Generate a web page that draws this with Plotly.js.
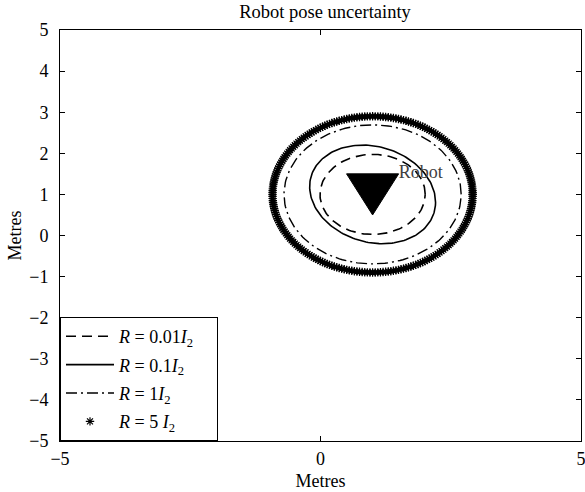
<!DOCTYPE html>
<html>
<head>
<meta charset="utf-8">
<script src="https://cdn.plot.ly/plotly-3.0.1.min.js"></script>
<style>html,body{margin:0;padding:0;background:#fff;}#chart{width:585px;height:492px;}</style>
</head>
<body>
<div id="chart"></div>
<script>
// Ellipse legend labels
const seriesNames = [
  '<i>R</i> = 0.01<i>I</i><sub>2</sub>',
  '<i>R</i> = 0.1<i>I</i><sub>2</sub>',
  '<i>R</i> = 1<i>I</i><sub>2</sub>',
  '<i>R</i> = 5 <i>I</i><sub>2</sub>'
];
// Ellipse centres (metres)
const centreX = [1, 1, 1, 1];
const centreY = [1, 1, 1, 1];
// Ellipse shape matrices (squared semi-axes, metres^2)
const shapeXX = [1.02, 1.46, 2.89, 3.69];
const shapeYY = [0.95, 1.44, 2.86, 3.61];
const shapeXY = [0.0, -0.23, 0.0, 0.0];
// Number of points used to draw each ellipse
const ellipsePoints = [180, 180, 180, 240];
// Robot triangle vertices
const robotX = [0.5, 1.5, 1.0, 0.5];
const robotY = [1.5, 1.5, 0.5, 1.5];
const robotLabel = 'Robot';
const robotLabelX = [1.5];
const robotLabelY = [1.5];
// Tick values
const xTicks = [-5, 0, 5];
const yTicks = [-5, -4, -3, -2, -1, 0, 1, 2, 3, 4, 5];

function ellipse(i) {
  const a = Math.sqrt(shapeXX[i]);
  const b = shapeXY[i] / a;
  const c = Math.sqrt(shapeYY[i] - b * b);
  const xs = [], ys = [];
  const n = ellipsePoints[i];
  for (let k = 0; k <= n; k++) {
    const t = 2 * Math.PI * k / n;
    const u = Math.cos(t), v = Math.sin(t);
    xs.push(centreX[i] + a * u);
    ys.push(centreY[i] + b * u + c * v);
  }
  return {x: xs, y: ys};
}

const styles = [
  {mode: 'lines', line: {color: 'black', width: 1.6, dash: '10px,6px'}},
  {mode: 'lines', line: {color: 'black', width: 1.6, dash: 'solid'}},
  {mode: 'lines', line: {color: 'black', width: 1.4, dash: '11px,4px,2px,4px'}},
  {mode: 'markers', marker: {symbol: 'asterisk-open', size: 7, color: 'black', line: {color: 'black', width: 1.2}}}
];

const legendPad = '\u00a0\u00a0\u00a0\u00a0';
const traces = seriesNames.map((name, i) => {
  const e = ellipse(i);
  return Object.assign({
    type: 'scatter', x: e.x, y: e.y, name: name + legendPad,
    legendgroup: 'g' + i, hoverinfo: 'skip'
  }, styles[i]);
});

traces.push({
  type: 'scatter', x: robotX, y: robotY, mode: 'lines', fill: 'toself',
  fillcolor: 'black', line: {color: 'black', width: 1}, showlegend: false, hoverinfo: 'skip'
});
traces.push({
  type: 'scatter', x: robotLabelX, y: robotLabelY, mode: 'text', text: [robotLabel],
  textposition: 'middle right', textfont: {family: 'Liberation Serif', size: 18, color: '#404040'},
  showlegend: false, hoverinfo: 'skip'
});

const axisCommon = {
  range: [-5, 5], showgrid: false, zeroline: false, showline: true, linecolor: 'black', linewidth: 1,
  mirror: 'ticks', ticks: 'inside', ticklen: 5, tickwidth: 1, tickcolor: 'black',
  tickfont: {family: 'Liberation Serif', size: 18, color: 'black'}, ticklabeloverflow: 'allow'
};

const layout = {
  width: 585, height: 492,
  margin: {l: 60, r: 4, t: 30, b: 51},
  paper_bgcolor: 'white', plot_bgcolor: 'white',
  font: {family: 'Liberation Serif', color: 'black'},
  title: {text: 'Robot pose uncertainty', font: {family: 'Liberation Serif', size: 18.5, color: 'black'},
          x: 325 / 585, xanchor: 'center', y: 1 - 12 / 492, yanchor: 'middle', yref: 'container'},
  xaxis: Object.assign({}, axisCommon, {tickvals: xTicks, ticklabelstandoff: 1,
    title: {text: 'Metres', font: {family: 'Liberation Serif', size: 18, color: 'black'}, standoff: 6}}),
  yaxis: Object.assign({}, axisCommon, {tickvals: yTicks, ticklabelstandoff: 7,
    title: {text: 'Metres', font: {family: 'Liberation Serif', size: 18, color: 'black'}, standoff: 2}}),
  showlegend: true,
  legend: {x: 0, y: 0, xanchor: 'left', yanchor: 'bottom', bgcolor: 'white', bordercolor: 'black', borderwidth: 1,
           font: {family: 'Liberation Serif', size: 18, color: 'black'}, itemwidth: 48, tracegroupgap: 2},
  hovermode: false
};

Plotly.newPlot('chart', traces, layout, {displayModeBar: false, staticPlot: true});
</script>
</body>
</html>
